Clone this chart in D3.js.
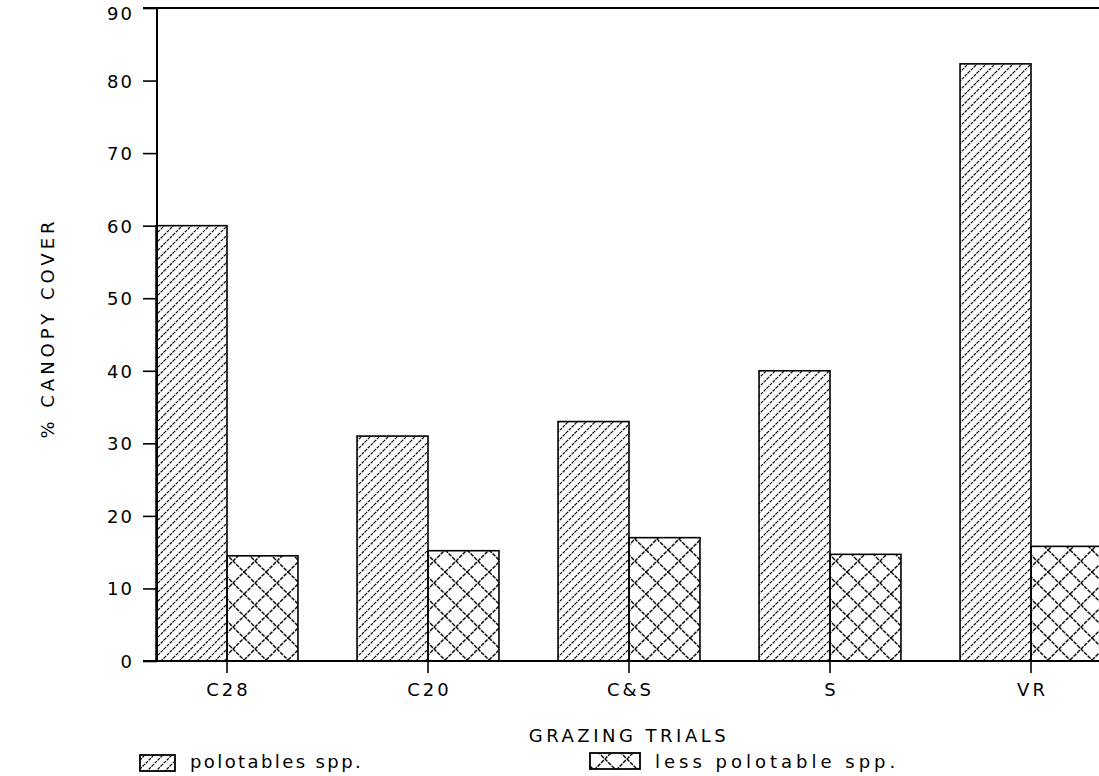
<!DOCTYPE html>
<html>
<head>
<meta charset="utf-8">
<script src="https://cdn.jsdelivr.net/npm/d3@7"></script>
<style>
  body { margin: 0; background: #fff; }
  text { font-family: "DejaVu Sans", sans-serif; fill: #000; }
</style>
</head>
<body>
<div id="chart"></div>
<script>
const trials = ["C28", "C20", "C&S", "S", "VR"];
const seriesNames = ["polotables spp.", "less polotable spp."];
const palatable = [60, 31, 33, 40, 82.3];
const lessPalatable = [14.5, 15.2, 17, 14.7, 15.8];
const yTicks = [0, 10, 20, 30, 40, 50, 60, 70, 80, 90];

const outerWidth = 1099;
const outerHeight = 776;
const axisLeftX = 157;
const axisBottomY = 661;
const axisTopY = 8;

const SVG = d3
  .select("#chart")
  .append("svg")
  .attr("width", outerWidth)
  .attr("height", outerHeight);

const defs = SVG.append("defs");

// single diagonal hatch
const hatch = defs
  .append("pattern")
  .attr("id", "hatch")
  .attr("patternUnits", "userSpaceOnUse")
  .attr("width", 9)
  .attr("height", 9);
hatch
  .append("path")
  .attr("d", "M-1,10 L10,-1 M-3,3 L3,-3 M6,12 L12,6")
  .attr("stroke", "#000")
  .attr("stroke-width", 1.2)
  .attr("stroke-dasharray", "3,1");

// cross hatch
const cross = defs
  .append("pattern")
  .attr("id", "cross")
  .attr("patternUnits", "userSpaceOnUse")
  .attr("width", 22)
  .attr("height", 22);
cross
  .append("path")
  .attr("d", "M0,0 L22,22 M0,22 L22,0")
  .attr("stroke", "#000")
  .attr("stroke-width", 1.4)
  .attr("stroke-dasharray", "4,1");

const fills = ["url(#hatch)", "url(#cross)"];

const yScale = d3.scaleLinear().domain([0, 90]).range([axisBottomY, axisTopY]);

const xScale = d3
  .scaleBand()
  .domain(trials)
  .range([126.5, 1131.5])
  .paddingInner(0.294)
  .paddingOuter(0.147);

const xSub = d3
  .scaleBand()
  .domain(seriesNames)
  .range([0, xScale.bandwidth()]);

const data = trials.map(function(t, i) {
  return { trial: t, values: [palatable[i], lessPalatable[i]] };
});

// bars
const groups = SVG.selectAll(".trial")
  .data(data)
  .enter()
  .append("g")
  .attr("class", "trial")
  .attr("transform", function(d) {
    return "translate(" + xScale(d.trial) + ",0)";
  });

groups
  .selectAll("rect")
  .data(function(d) {
    return d.values.map(function(v, j) {
      return { series: seriesNames[j], value: v, idx: j };
    });
  })
  .enter()
  .append("rect")
  .attr("x", function(d) { return xSub(d.series); })
  .attr("y", function(d) { return yScale(d.value); })
  .attr("width", xSub.bandwidth())
  .attr("height", function(d) { return axisBottomY - yScale(d.value); })
  .attr("fill", function(d) { return fills[d.idx]; })
  .attr("stroke", "#000")
  .attr("stroke-width", 1.6);

// y axis
const yAxis = d3.axisLeft(yScale).tickValues(yTicks).tickSize(14).tickPadding(11);
const yAxisGroup = SVG.append("g")
  .attr("class", "y axis")
  .attr("transform", "translate(" + axisLeftX + ",0)")
  .call(yAxis);
yAxisGroup.select(".domain").remove();
yAxisGroup.selectAll("line").attr("stroke", "#000").attr("stroke-width", 1.6);
yAxisGroup.selectAll("text")
  .style("font-size", "18px")
  .style("font-family", "'DejaVu Sans', sans-serif")
  .style("letter-spacing", "2px")
  .attr("dx", "2px")
  .attr("dy", function(d) { return d === 90 ? "0.62em" : "0.36em"; }); // keep top label on the page

// x axis
const xAxis = d3.axisBottom(xScale).tickSize(12).tickPadding(10);
const xAxisGroup = SVG.append("g")
  .attr("class", "x axis")
  .attr("transform", "translate(0," + axisBottomY + ")")
  .call(xAxis);
xAxisGroup.select(".domain").remove();
xAxisGroup.selectAll("line").attr("stroke", "#000").attr("stroke-width", 1.6);
xAxisGroup.selectAll("text")
  .style("font-size", "18px")
  .style("font-family", "'DejaVu Sans', sans-serif")
  .style("letter-spacing", "3px")
  .attr("dx", "1.5px");

// axis lines: left, bottom and top frame
SVG.append("line")
  .attr("x1", axisLeftX).attr("x2", axisLeftX)
  .attr("y1", yScale(90)).attr("y2", yScale(0))
  .attr("stroke", "#000").attr("stroke-width", 2);
SVG.append("line")
  .attr("x1", 143).attr("x2", outerWidth)
  .attr("y1", yScale(0)).attr("y2", yScale(0))
  .attr("stroke", "#000").attr("stroke-width", 2);
SVG.append("line")
  .attr("x1", 143).attr("x2", outerWidth)
  .attr("y1", yScale(90)).attr("y2", yScale(90))
  .attr("stroke", "#000").attr("stroke-width", 2);

// axis titles
SVG.append("text")
  .attr("transform", "translate(54,328) rotate(-90)")
  .attr("text-anchor", "middle")
  .style("font-size", "18px")
  .style("letter-spacing", "4px")
  .text("%   CANOPY COVER");

SVG.append("text")
  .attr("x", xScale("C&S") + xScale.bandwidth() / 2)
  .attr("y", 742)
  .attr("text-anchor", "middle")
  .style("font-size", "18px")
  .style("letter-spacing", "3.5px")
  .text("GRAZING TRIALS");

// legend
const legendItems = [
  { name: seriesNames[0], fill: fills[0], x: 140, w: 35, y: 755, tx: 190, ls: 2.4 },
  { name: seriesNames[1], fill: fills[1], x: 590, w: 50, y: 753, tx: 655, ls: 4 }
];
const legend = SVG.selectAll(".legend")
  .data(legendItems)
  .enter()
  .append("g")
  .attr("class", "legend");
legend
  .append("rect")
  .attr("x", function(d) { return d.x; })
  .attr("y", function(d) { return d.y; })
  .attr("width", function(d) { return d.w; })
  .attr("height", 16)
  .attr("fill", function(d) { return d.fill; })
  .attr("stroke", "#000")
  .attr("stroke-width", 1.8);
legend
  .append("text")
  .attr("x", function(d) { return d.tx; })
  .attr("y", 768)
  .style("font-size", "18px")
  .style("letter-spacing", function(d) { return d.ls + "px"; })
  .text(function(d) { return d.name; });
</script>
</body>
</html>
